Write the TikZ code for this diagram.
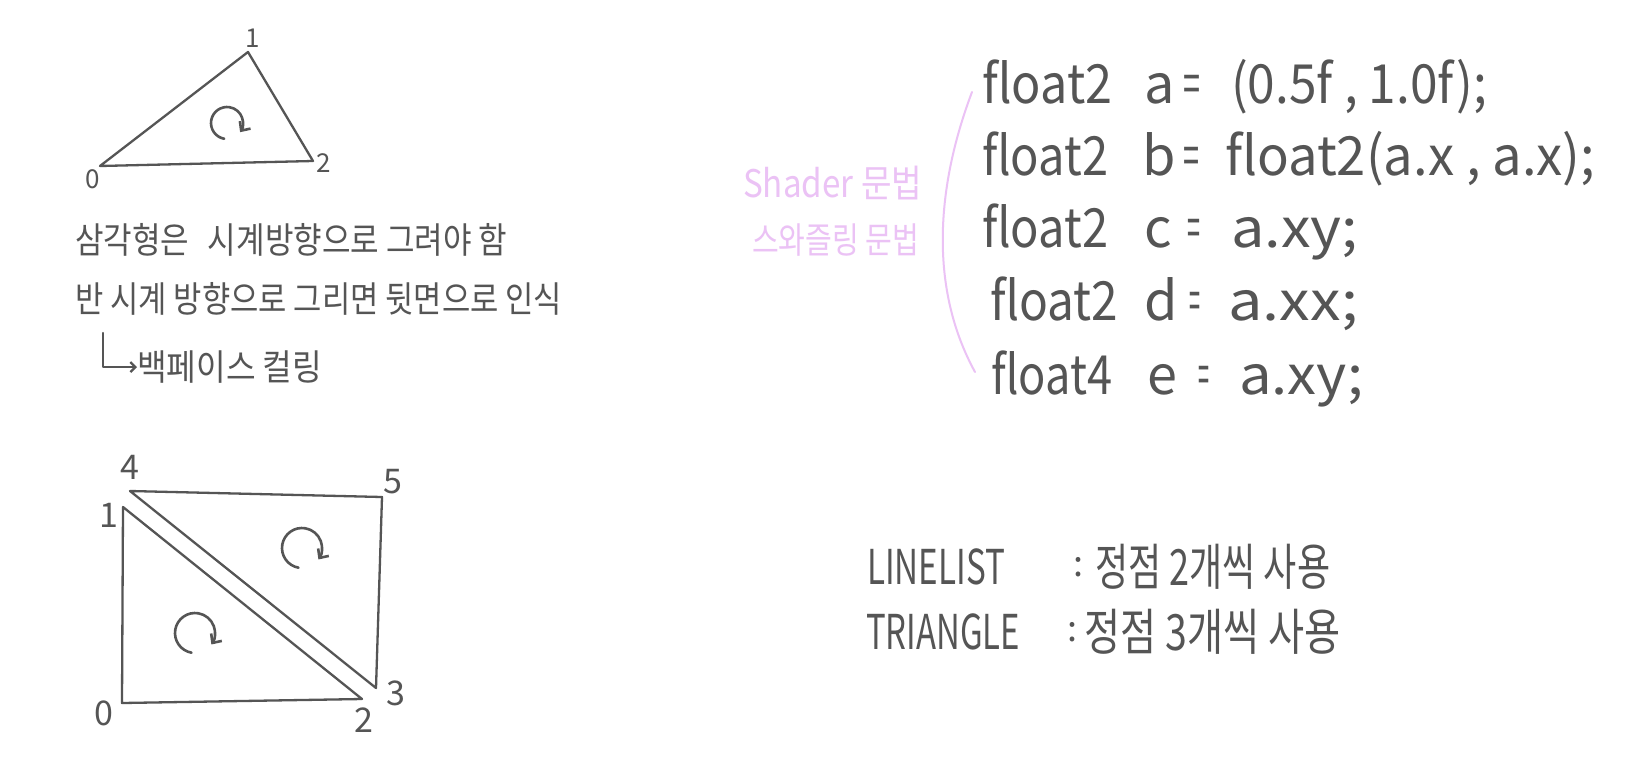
\documentclass[tikz,border=0pt]{standalone}
\usepackage{fontspec}
\usepackage{graphicx}
\setmainfont{Noto Sans CJK KR}
\usetikzlibrary{arrows.meta,calc}
\definecolor{ink}{HTML}{555555}
\definecolor{pinkink}{HTML}{EBC2F5}
\newcommand{\fw}[2]{\resizebox{#1}{\height}{#2}}
\newcommand{\fs}[1]{\fontsize{#1}{#1}\selectfont}
\tikzset{
  ln/.style={draw=ink, line width=2.3pt, line cap=round, line join=round},
  txt/.style={inner sep=0pt, text=ink},
  pinktxt/.style={inner sep=0pt, text=pinkink},
  rot/.style={ln, line width=2.6pt, -{Straight Barb[length=7pt,width=13pt]}},
}
\begin{document}
\begin{tikzpicture}[x=1pt,y=-1pt]
\useasboundingbox (0,0) rectangle (1640,777);
\fill[white] (0,0) rectangle (1640,777);

% ---- top triangle
\coordinate (t0) at (100,166);
\coordinate (t1) at (248,52);
\coordinate (t2) at (313,161);
\draw[ln] (t0) -- (t1) -- (t2) -- cycle;
\node[txt,font=\fs{26}] (l1) at (253,38) {1};
\node[txt,font=\fs{26}] (l2) at (324,163) {2};
\node[txt,font=\fs{26}] (l0) at (93,179) {0};
\coordinate (c1) at (227,123);
\draw[rot] ($(c1)+(100:16)$) arc[start angle=100,end angle=395,radius=16];

% ---- korean notes
\node[txt,font=\fs{36},anchor=west] (k1) at (75,240) {\fw{432pt}{삼각형은\hspace{0.6em}시계방향으로 그려야 함}};
\node[txt,font=\fs{36},anchor=west] (k2) at (75,299) {\fw{487pt}{반 시계 방향으로 그리면 뒷면으로 인식}};
\node[txt,font=\fs{36},anchor=west] (k3) at (137,367) {\fw{185pt}{백페이스 컬링}};
\coordinate (hook) at (103,333);
\draw[ln,-{Straight Barb[length=5pt,width=10pt]}] (hook) |- (k3.west);

% ---- shader syntax
\node[pinktxt,font=\fs{38},anchor=west] (p1) at (743,183) {\fw{179pt}{Shader 문법}};
\node[pinktxt,font=\fs{36},anchor=west] (p2) at (752,240) {\fw{167pt}{스와즐링 문법}};
\coordinate (bt) at (972,92);
\coordinate (bb) at (975,372);
\draw[draw=pinkink, line width=2pt, line cap=round] (bt) .. controls (935,190) and (930,290) .. (bb);

\tikzset{code/.style={txt,font=\fs{54},anchor=base west}}
% line a
\node[code] (a1) at (982,103) {\fw{130pt}{float2}};
\node[code] (a2) at (1144,103) {a};
\node[code] (a3) at (1183,103) {\fw{17pt}{=}};
\node[code] (a4) at (1231,103) {\fw{256pt}{(0.5f , 1.0f);}};
% line b
\node[code] (b1) at (982,175) {\fw{126pt}{float2}};
\node[code] (b2) at (1142,175) {b};
\node[code] (b3) at (1183,175) {\fw{16pt}{=}};
\node[code] (b4) at (1225,175) {\fw{370pt}{float2(a.x , a.x);}};
% line c
\node[code] (c1n) at (982,247) {\fw{126pt}{float2}};
\node[code] (c2) at (1144,247) {c};
\node[code] (c3) at (1187,247) {\fw{13pt}{=}};
\node[code] (c4) at (1231,247) {\fw{127pt}{a.xy;}};
% line d
\node[code] (d1) at (990,320) {\fw{128pt}{float2}};
\node[code] (d2) at (1144,320) {d};
\node[code] (d3) at (1189,320) {\fw{11pt}{=}};
\node[code] (d4) at (1228,320) {\fw{130pt}{a.xx;}};
% line e
\node[code] (e1) at (991,394) {\fw{121pt}{float4}};
\node[code] (e2) at (1147,394) {e};
\node[code] (e3) at (1198,394) {\fw{11pt}{=}};
\node[code] (e4) at (1239,394) {\fw{124pt}{a.xy;}};

% ---- square of two triangles
\coordinate (s0) at (122,703);
\coordinate (s1) at (123,507);
\coordinate (s2) at (362,699);
\coordinate (s3) at (376,688);
\coordinate (s4) at (130,491);
\coordinate (s5) at (382,497);
\draw[ln] (s1) -- (s0) -- (s2) -- cycle;
\draw[ln] (s4) -- (s5) -- (s3) -- cycle;
\node[txt,font=\fs{34}] (n4) at (130,467) {4};
\node[txt,font=\fs{34}] (n5) at (393,482) {5};
\node[txt,font=\fs{34}] (n1) at (109,515) {1};
\node[txt,font=\fs{34}] (n3) at (396,693) {3};
\node[txt,font=\fs{34}] (n0) at (104,713) {0};
\node[txt,font=\fs{34}] (n2) at (364,720) {2};
\coordinate (cu) at (302,548);
\coordinate (cl) at (195,633);
\draw[rot] ($(cu)+(100:20)$) arc[start angle=100,end angle=395,radius=20];
\draw[rot] ($(cl)+(100:20)$) arc[start angle=100,end angle=395,radius=20];

% ---- primitive topology notes
\node[txt,font=\fs{48},anchor=west] (ll) at (867,567) {\fw{138pt}{LINELIST}};
\node[txt,font=\fs{36}] (lc) at (1078,567) {:};
\node[txt,font=\fs{50},anchor=west] (lk) at (1095,567) {\fw{235pt}{정점 2개씩 사용}};
\node[txt,font=\fs{48},anchor=west] (tl) at (866,632) {\fw{154pt}{TRIANGLE}};
\node[txt,font=\fs{36}] (tc) at (1072,632) {:};
\node[txt,font=\fs{50},anchor=west] (tk) at (1084,632) {\fw{256pt}{정점 3개씩 사용}};
\end{tikzpicture}
\end{document}
